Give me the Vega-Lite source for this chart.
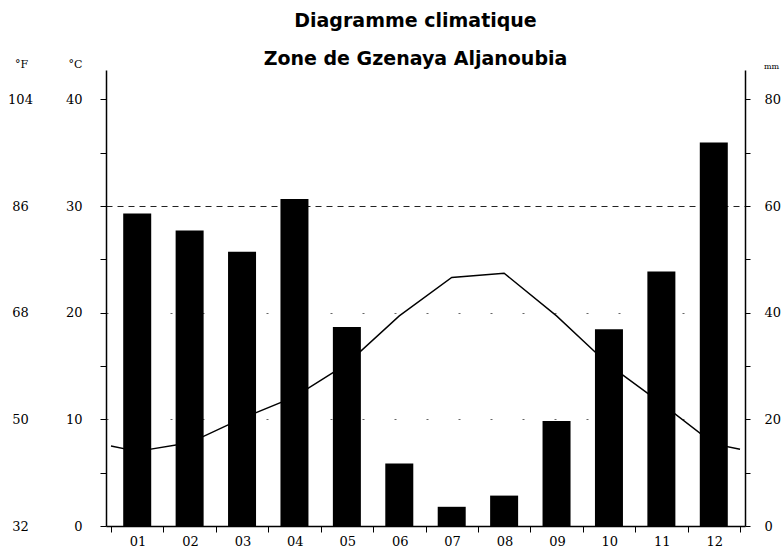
{
  "$schema": "https://vega.github.io/schema/vega-lite/v6.json",
  "width": 639,
  "height": 456,
  "autosize": {"type": "none"},
  "padding": {"left": 106, "top": 70, "right": 38, "bottom": 25},
  "background": "white",
  "config": {
    "view": {"stroke": null},
    "axis": {
      "labelFont": "DejaVu Serif",
      "labelFontSize": 12,
      "labelColor": "#000",
      "domainColor": "#000",
      "tickColor": "#000",
      "grid": false,
      "labelFlush": false,
      "labelOverlap": false,
      "titleFont": "DejaVu Serif",
      "titleFontSize": 11,
      "titleFontWeight": "normal",
      "titleColor": "#000"
    }
  },
  "title": {
    "text": ["Diagramme climatique", "Zone de Gzenaya Aljanoubia"],
    "font": "DejaVu Sans",
    "fontSize": 19,
    "fontWeight": "bold",
    "color": "#000",
    "anchor": "middle",
    "lineHeight": 38,
    "offset": -11,
    "dx": -10
  },
  "datasets": {
    "temp": [
      {"m": 0.5, "t": 7.5},
      {"m": 1, "t": 7.0},
      {"m": 2, "t": 7.8},
      {"m": 3, "t": 10.1},
      {"m": 4, "t": 12.1},
      {"m": 5, "t": 15.2},
      {"m": 6, "t": 19.7},
      {"m": 7, "t": 23.3},
      {"m": 8, "t": 23.7},
      {"m": 9, "t": 19.7},
      {"m": 10, "t": 15.1},
      {"m": 11, "t": 11.5},
      {"m": 12, "t": 7.7},
      {"m": 12.5, "t": 7.2}
    ],
    "precip": [
      {"m": 1, "p": 58.6},
      {"m": 2, "p": 55.4},
      {"m": 3, "p": 51.4},
      {"m": 4, "p": 61.3},
      {"m": 5, "p": 37.3},
      {"m": 6, "p": 11.7},
      {"m": 7, "p": 3.6},
      {"m": 8, "p": 5.7},
      {"m": 9, "p": 19.7},
      {"m": 10, "p": 36.9},
      {"m": 11, "p": 47.7},
      {"m": 12, "p": 71.9}
    ]
  },
  "encoding": {
    "x": {
      "field": "m",
      "type": "quantitative",
      "scale": {"domain": [0.5, 12.5], "nice": false, "zero": false},
      "axis": {
        "title": null,
        "values": [0.5, 1.5, 2.5, 3.5, 4.5, 5.5, 6.5, 7.5, 8.5, 9.5, 10.5, 11.5, 12.5],
        "labelExpr": "datum.value < 12 ? (datum.value < 9 ? '0' : '') + (datum.value + 0.5) : ''",
        "labelOffset": 26.6,
        "labelPadding": 3,
        "labelFontSize": 13,
        "tickSize": 6,
        "domainWidth": 1.5,
        "labelAlign": "center"
      }
    }
  },
  "layer": [
    {
      "data": {"name": "temp"},
      "mark": {"type": "line", "color": "#000", "strokeWidth": 1.4},
      "encoding": {
        "y": {
          "field": "t",
          "type": "quantitative",
          "scale": {"domain": [0, 42.75], "nice": false, "zero": true},
          "axis": {
            "orient": "left",
            "values": [0, 5, 10, 15, 20, 25, 30, 35, 40],
            "labelExpr": "datum.value % 10 === 0 ? datum.label : ''",
            "tickSize": 6,
            "labelPadding": 18,
            "labelFontSize": 13,
            "labelAlign": "right",
            "labelBaseline": "middle",
            "domainWidth": 1.5,
            "grid": true,
            "gridColor": {"condition": {"test": "datum.value === 30", "value": "#222"}, "value": "#666"},
            "gridDash": {"condition": {"test": "datum.value === 30", "value": [6, 5]}, "value": [2, 30]},
            "gridOpacity": {"condition": {"test": "datum.value === 10 || datum.value === 20 || datum.value === 30", "value": 1}, "value": 0},
            "title": "°C",
            "titleAngle": 0,
            "titleX": -31,
            "titleY": -6,
            "titleAlign": "center",
            "titleBaseline": "middle"
          }
        }
      }
    },
    {
      "data": {"name": "precip"},
      "mark": {"type": "bar", "color": "#000", "width": 28},
      "encoding": {
        "y": {
          "field": "p",
          "type": "quantitative",
          "scale": {"domain": [0, 85.5], "nice": false, "zero": true},
          "axis": {
            "orient": "right",
            "values": [0, 10, 20, 30, 40, 50, 60, 70, 80],
            "labelExpr": "datum.value % 20 === 0 ? datum.label : ''",
            "tickSize": 5,
            "labelPadding": 14,
            "labelFontSize": 13,
            "labelAlign": "left",
            "labelBaseline": "middle",
            "domainWidth": 1.5,
            "title": "mm",
            "titleFontSize": 8,
            "titleAngle": 0,
            "titleX": 26,
            "titleY": -4,
            "titleAlign": "center",
            "titleBaseline": "middle"
          }
        }
      }
    },
    {
      "data": {"name": "temp"},
      "mark": {"type": "point", "opacity": 0},
      "encoding": {
        "y": {
          "field": "t",
          "type": "quantitative",
          "scale": {"domain": [0, 42.75], "nice": false, "zero": true},
          "axis": {
            "orient": "left",
            "values": [0, 10, 20, 30, 40],
            "labelExpr": "format(datum.value * 1.8 + 32, 'd')",
            "domain": false,
            "ticks": false,
            "tickSize": 0,
            "labelPadding": 86,
            "labelFontSize": 13,
            "labelAlign": "center",
            "labelBaseline": "middle",
            "title": "°F",
            "titleAngle": 0,
            "titleX": -85,
            "titleY": -6,
            "titleAlign": "center",
            "titleBaseline": "middle"
          }
        }
      }
    }
  ],
  "resolve": {"scale": {"y": "independent"}, "axis": {"y": "independent"}}
}
